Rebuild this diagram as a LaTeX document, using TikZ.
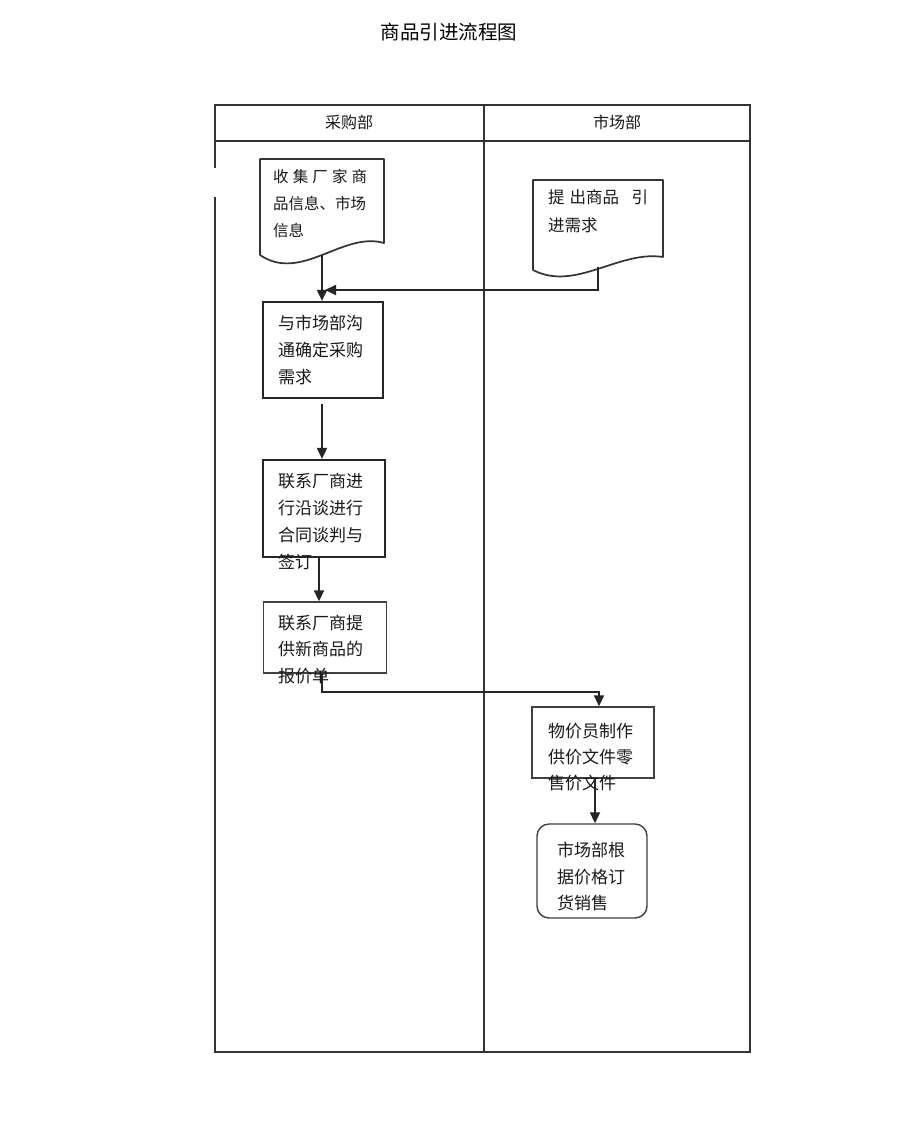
\documentclass[tikz,border=0pt]{standalone}
\usepackage{fontspec}
\newfontfamily\cjk{Noto Sans CJK SC}
\usetikzlibrary{arrows.meta}
\begin{document}
\begin{tikzpicture}[x=1pt,y=-1pt,
  frame/.style={draw=black!80, line width=1.4pt},
  docline/.style={draw=black!80, line width=1.7pt, line join=round},
  boxthick/.style={draw=black!85, line width=2.2pt, inner sep=0pt},
  boxthin/.style={draw=black!75, line width=1.4pt, inner sep=0pt},
  conn/.style={draw=black!85, line width=1.9pt, -{Triangle[length=11pt,width=10pt]}},
  txt/.style={inner sep=0pt, align=left, anchor=west, text=black!90, font=\cjk\fontsize{17}{27}\selectfont},
  head/.style={inner sep=0pt, text=black!90, font=\cjk\fontsize{16}{20}\selectfont},
]
\useasboundingbox[fill=white] (0,0) rectangle (920,1130);

% title
\node[inner sep=0pt, font=\cjk\fontsize{19.5}{24}\selectfont] (title) at (449,32) {商品引进流程图};

% swimlane frame
\draw[frame] (215,168) -- (215,105) -- (750,105) -- (750,1052) -- (215,1052) -- (215,197);
\draw[frame] (215,141) -- (750,141);
\draw[frame] (484,105) -- (484,1052);
\node[head] (h1) at (349,122) {采购部};
\node[head] (h2) at (617,122) {市场部};

% document 1
\node[minimum width=124pt, minimum height=96pt, inner sep=0pt] (doc1) at (322,207) {};
\draw[docline] (260,255) -- (260,159) -- (384,159) -- (384,243) .. controls (343,231) and (301,283) .. (260,255);
\node[txt, font=\cjk\fontsize{15.5}{27}\selectfont] (t1) at (273,204)
  {\makebox[94pt][s]{收\hfill 集\hfill 厂\hfill 家\hfill 商}\\品信息、市场\\信息};

% document 2
\node[minimum width=130pt, minimum height=87pt, inner sep=0pt] (doc2) at (598,223.5) {};
\draw[docline] (533,270) -- (533,180) -- (663,180) -- (663,257) .. controls (619,250) and (575,292) .. (533,270);
\node[txt, font=\cjk\fontsize{16.5}{28}\selectfont] (t2) at (548,211)
  {\makebox[100pt][l]{提\hspace{5pt}出商品\hfill 引}\\进需求};

% process boxes
\node[boxthick, minimum width=120pt, minimum height=96pt] (box2) at (323,350) {};
\node[txt] (t3) at (278,350) {与市场部沟\\通确定采购\\需求};

\node[boxthick, minimum width=122pt, minimum height=97pt] (box3) at (324,508.5) {};
\node[txt] (t4) at (278,521.5) {联系厂商进\\行沿谈进行\\合同谈判与\\签订};

\node[boxthin, minimum width=123pt, minimum height=71pt] (box4) at (325,637.5) {};
\node[txt, font=\cjk\fontsize{17}{26.5}\selectfont] (t5) at (278,649.5) {联系厂商提\\供新商品的\\报价单};

\node[boxthin, minimum width=122pt, minimum height=71pt] (box5) at (593,742.5) {};
\node[txt, font=\cjk\fontsize{17}{26}\selectfont] (t6) at (548,757) {物价员制作\\供价文件零\\售价文件};

\node[boxthin, rounded corners=12pt, minimum width=110pt, minimum height=94pt] (box6) at (592,871) {};
\node[txt, font=\cjk\fontsize{17}{26.5}\selectfont] (t7) at (557,876.5) {市场部根\\据价格订\\货销售};

% connectors
\coordinate (m1) at (325,290);
\coordinate (m2) at (599,692);
\draw[conn] (doc1.south) -- (doc1.south |- box2.north);
\draw[conn] (doc2.south) |- (m1);
\draw[conn, shorten <=5pt] ([xshift=-1pt]box2.south) -- ([xshift=-1pt]box2.south |- box3.north);
\draw[conn] ([xshift=-5pt]box3.south) -- ([xshift=-5pt]box3.south |- box4.north);
\draw[conn] ([xshift=-3pt]box4.south) |- (m2) -- (m2 |- box5.north);
\draw[conn] ([xshift=2pt]box5.south) -- ([xshift=2pt]box5.south |- box6.north);
\end{tikzpicture}
\end{document}
